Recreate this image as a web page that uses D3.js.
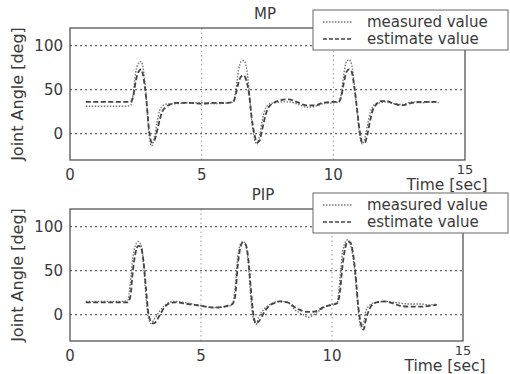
<!DOCTYPE html>
<html>
<head>
<meta charset="utf-8">
<script src="https://cdn.jsdelivr.net/npm/d3@7"></script>
<style>
  body { margin: 0; background: #fff; }
  svg { display: block; font-family: 'DejaVu Sans', sans-serif; }
</style>
</head>
<body>
<svg width="510" height="374"></svg>
<script>
// MP joint
var mpTime = [0.6, 1.0, 1.5, 2.0, 2.3, 2.4, 2.5, 2.6, 2.7, 2.8, 2.9, 3.0, 3.1, 3.2, 3.3, 3.4, 3.5, 3.6, 3.8, 4.0, 4.5, 5.0, 5.5, 6.0, 6.2, 6.3, 6.4, 6.5, 6.6, 6.7, 6.8, 6.9, 7.0, 7.1, 7.2, 7.3, 7.4, 7.5, 7.6, 7.8, 8.0, 8.3, 8.6, 9.0, 9.3, 9.6, 10.0, 10.2, 10.3, 10.4, 10.5, 10.6, 10.7, 10.8, 10.9, 11.0, 11.1, 11.2, 11.3, 11.4, 11.5, 11.6, 11.8, 12.0, 12.3, 12.6, 13.0, 13.4, 13.7, 14.0]
var mpMeasured = [31, 31, 31, 31, 32, 45, 70, 80, 82, 70, 40, 0, -14, -5, 12, 26, 31, 33, 34, 34, 35, 35, 34, 35, 36, 50, 72, 82, 83, 75, 50, 15, -5, -12, -2, 15, 27, 32, 34, 35, 36, 36, 34, 30, 31, 34, 35, 36, 45, 68, 82, 84, 78, 55, 25, -2, -12, -5, 10, 24, 31, 34, 35, 36, 34, 33, 36, 35, 36, 35]
var mpEstimate = [36, 36, 36, 36, 36, 42, 60, 70, 73, 62, 38, 5, -10, -8, 2, 15, 25, 29, 33, 35, 35, 34, 35, 35, 36, 45, 58, 65, 66, 60, 45, 18, 0, -10, -8, 5, 18, 28, 32, 36, 38, 39, 36, 32, 32, 35, 36, 36, 42, 58, 70, 73, 70, 52, 28, 3, -10, -10, 0, 15, 27, 32, 37, 37, 34, 32, 35, 36, 36, 36]

// PIP joint
var pipTime = [0.6, 1.0, 1.5, 2.0, 2.2, 2.3, 2.4, 2.5, 2.6, 2.7, 2.8, 2.9, 3.0, 3.1, 3.2, 3.4, 3.6, 3.8, 4.0, 4.5, 5.0, 5.5, 6.0, 6.2, 6.3, 6.4, 6.5, 6.6, 6.7, 6.8, 6.9, 7.0, 7.1, 7.2, 7.4, 7.6, 7.8, 8.0, 8.3, 8.6, 8.9, 9.1, 9.4, 9.7, 10.0, 10.2, 10.3, 10.4, 10.5, 10.6, 10.7, 10.8, 10.9, 11.0, 11.1, 11.2, 11.3, 11.5, 11.7, 12.0, 12.3, 12.6, 13.0, 13.4, 13.7, 14.0]
var pipMeasured = [15, 15, 15, 15, 16, 35, 65, 79, 83, 80, 60, 20, -5, -10, -6, 3, 10, 14, 15, 13, 10, 8, 9, 12, 30, 65, 80, 83, 80, 60, 20, -5, -11, -3, 6, 11, 14, 15, 14, 5, 0, -3, 2, 8, 12, 14, 40, 70, 82, 85, 80, 65, 40, 5, -14, -10, 5, 12, 14, 15, 14, 13, 12, 12, 11, 12]
var pipEstimate = [14, 14, 14, 14, 14, 20, 50, 70, 78, 77, 62, 30, 0, -8, -10, -2, 8, 13, 14, 12, 10, 8, 10, 12, 20, 55, 76, 82, 80, 65, 30, 0, -10, -8, 2, 10, 13, 15, 14, 8, 4, 3, 4, 9, 11, 13, 25, 55, 75, 83, 82, 70, 45, 10, -10, -17, -5, 10, 14, 15, 13, 10, 9, 9, 10, 11]

var xTicks = [0, 5, 10, 15]
var yTicks = [0, 50, 100]
var legendLabels = ['measured value', 'estimate value']

var svg = d3.select('svg')
var ink = '#3a3a3a'

function panel(title, time, measured, estimate, box) {
  var x = d3.scaleLinear().domain([0, 15]).range([box.left, box.right])
  var y = d3.scaleLinear().domain([-30, 120]).range([box.bottom, box.top])
  var g = svg.append('g')

  // grid
  g.selectAll('.hgrid').data(yTicks).enter().append('line')
      .attr('x1', box.left).attr('x2', box.right)
      .attr('y1', function(d) { return y(d) }).attr('y2', function(d) { return y(d) })
      .attr('stroke', '#666').attr('stroke-width', 1.2).attr('stroke-dasharray', '2,3')
  g.selectAll('.vgrid').data([5, 10]).enter().append('line')
      .attr('x1', function(d) { return x(d) }).attr('x2', function(d) { return x(d) })
      .attr('y1', box.top).attr('y2', box.bottom)
      .attr('stroke', '#999').attr('stroke-width', 1).attr('stroke-dasharray', '1.5,3')

  // frame
  g.append('rect')
      .attr('x', box.left).attr('y', box.top)
      .attr('width', box.right - box.left).attr('height', box.bottom - box.top)
      .attr('fill', 'none').attr('stroke', '#555').attr('stroke-width', 1.3)

  // tick labels
  g.selectAll('.ylab').data(yTicks).enter().append('text')
      .attr('x', box.left - 7).attr('y', function(d) { return y(d) + 5.5 })
      .attr('text-anchor', 'end').attr('font-size', 15).attr('fill', ink)
      .text(function(d) { return d })
  g.selectAll('.xlab').data(xTicks).enter().append('text')
      .attr('x', function(d) { return x(d) })
      .attr('y', function(d) { return d == 15 ? box.bottom + 14 : box.bottom + 20 })
      .attr('text-anchor', 'middle').attr('font-size', function(d) { return d == 15 ? 13 : 15 })
      .attr('fill', ink)
      .text(function(d) { return d })

  g.append('text')
      .attr('x', box.right - 18).attr('y', box.bottom + 30)
      .attr('text-anchor', 'middle').attr('font-size', 15.5).attr('fill', ink)
      .text('Time [sec]')

  g.append('text')
      .attr('transform', 'translate(' + (box.left - 47) + ',' + ((box.top + box.bottom) / 2) + ') rotate(-90)')
      .attr('text-anchor', 'middle').attr('font-size', 16).attr('fill', ink)
      .text('Joint Angle [deg]')

  g.append('text')
      .attr('x', box.titleX).attr('y', box.top - 9)
      .attr('text-anchor', 'middle').attr('font-size', 15).attr('fill', ink)
      .text(title)

  // curves
  var line = d3.line()
      .x(function(d) { return x(d[0]) })
      .y(function(d) { return y(d[1]) })
      .curve(d3.curveMonotoneX)

  g.append('path')
      .datum(d3.zip(time, measured))
      .attr('d', line).attr('fill', 'none')
      .attr('stroke', '#777').attr('stroke-width', 1.4).attr('stroke-dasharray', '1.5,1.5')
  g.append('path')
      .datum(d3.zip(time, estimate))
      .attr('d', line).attr('fill', 'none')
      .attr('stroke', '#444').attr('stroke-width', 1.8).attr('stroke-dasharray', '5,2.5')

  // legend
  var lg = g.append('g').attr('transform', 'translate(313,' + box.legendTop + ')')
  lg.append('rect').attr('width', 195).attr('height', 40)
      .attr('fill', '#fff').attr('stroke', '#666').attr('stroke-width', 1)
  var styles = [
    { stroke: '#777', w: 1.3, dash: '1.5,1.5' },
    { stroke: '#444', w: 1.7, dash: '4,2' }
  ]
  legendLabels.forEach(function(label, i) {
    var ry = 12 + i * 17
    lg.append('line').attr('x1', 10).attr('x2', 40).attr('y1', ry).attr('y2', ry)
        .attr('stroke', styles[i].stroke).attr('stroke-width', styles[i].w)
        .attr('stroke-dasharray', styles[i].dash)
    lg.append('text').attr('x', 54).attr('y', ry + 5)
        .attr('font-size', 15).attr('fill', ink).text(label)
  })
}

panel('MP', mpTime, mpMeasured, mpEstimate,
  { left: 70, right: 465, top: 28, bottom: 160, titleX: 265, legendTop: 10 })
panel('PIP', pipTime, pipMeasured, pipEstimate,
  { left: 70, right: 463, top: 209, bottom: 341, titleX: 263, legendTop: 193 })
</script>
</body>
</html>
